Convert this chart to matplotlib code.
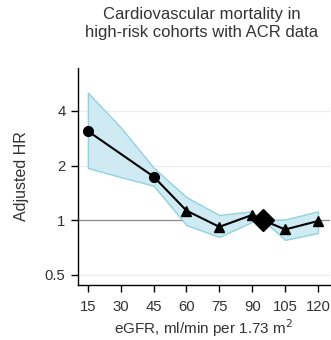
import matplotlib
matplotlib.use("Agg")
import matplotlib.pyplot as plt
from matplotlib.ticker import FixedLocator, FixedFormatter, NullLocator

plt.rcParams['font.family'] = ['Liberation Sans', 'DejaVu Sans']

# values
egfr = [15, 45, 60, 75, 90, 95, 105, 120]
hr = [3.10, 1.74, 1.13, 0.92, 1.07, 1.00, 0.89, 0.99]
marker_kind = ['o', 'o', '^', '^', '^', 'D', '^', '^']

band_x = [15, 30, 45, 60, 75, 90, 95, 105, 120]
band_hi = [5.05, 3.25, 1.95, 1.34, 1.07, 1.12, 1.00, 1.01, 1.12]
band_lo = [1.94, 1.73, 1.55, 0.94, 0.81, 0.98, 1.00, 0.78, 0.85]

xticks = [15, 30, 45, 60, 75, 90, 105, 120]
yticks = [0.5, 1, 2, 4]
ytick_labels = ['0.5', '1', '2', '4']

fig = plt.figure(figsize=(3.31, 3.40), dpi=100)
ax = fig.add_axes([78/331, 55/340, 252/331, 217/340])

ax.set_yscale('log', base=2)
ax.set_xlim(10.5, 125.5)
ax.set_ylim(0.44, 6.9)

# horizontal guide lines
for y in [0.5, 2, 4]:
    ax.axhline(y, color='#ececec', lw=0.8, zorder=0)
ax.axhline(1, color='#8a8a8a', lw=0.9, zorder=1)

ax.fill_between(band_x, band_lo, band_hi, facecolor='#cfeaf3',
                edgecolor='#8fd3e0', lw=1.0, zorder=2)

ax.plot(egfr, hr, color='black', lw=1.5, zorder=3)
for x, y, m in zip(egfr, hr, marker_kind):
    size = 11 if m == 'D' else 7
    ax.plot([x], [y], marker=m, color='black', ms=size, ls='none', zorder=4)

ax.yaxis.set_major_locator(FixedLocator(yticks))
ax.yaxis.set_major_formatter(FixedFormatter(ytick_labels))
ax.yaxis.set_minor_locator(NullLocator())
ax.set_xticks(xticks)

for side in ['top', 'right']:
    ax.spines[side].set_visible(False)
for side in ['left', 'bottom']:
    ax.spines[side].set_linewidth(1.0)
ax.tick_params(axis='both', direction='out', length=5, width=1,
               labelsize=10.7, labelcolor='#333333', pad=4)
ax.tick_params(axis='x', pad=6)

ax.set_ylabel('Adjusted HR', fontsize=11.5, color='#333333', labelpad=11)
ax.set_xlabel('eGFR, ml/min per 1.73 m$^2$', fontsize=11, color='#333333', labelpad=2)
fig.text(0.61, 0.978, 'Cardiovascular mortality in\nhigh-risk cohorts with ACR data',
         ha='center', va='top', fontsize=12, color='#333333', linespacing=1.2)

fig.savefig('out.png', dpi=100)
